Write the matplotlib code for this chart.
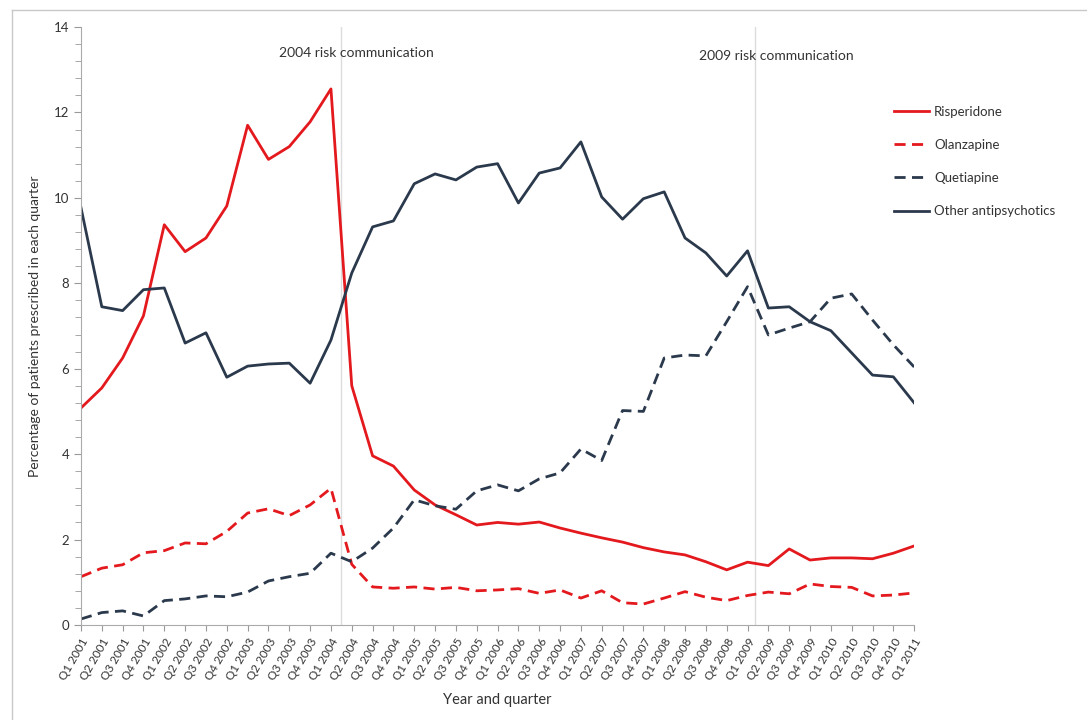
import matplotlib
matplotlib.use("Agg")
import matplotlib.pyplot as plt
import numpy as np
from matplotlib.ticker import MultipleLocator

plt.rcParams['font.family'] = ['Lato', 'DejaVu Sans']

# quarters Q1 2001 .. Q1 2011
quarters = [f"Q{q} {y}" for y in range(2001, 2012) for q in range(1, 5)][:41]

risperidone = [5.08, 5.55, 6.25, 7.24, 9.37, 8.74, 9.06, 9.81, 11.7, 10.9, 11.2, 11.78, 12.55,
               5.6, 3.96, 3.72, 3.16, 2.81, 2.58, 2.34, 2.40, 2.36, 2.41, 2.27, 2.15, 2.04,
               1.94, 1.81, 1.71, 1.64, 1.48, 1.29, 1.47, 1.39, 1.78, 1.52, 1.57, 1.57, 1.55,
               1.68, 1.85]
olanzapine = [1.13, 1.33, 1.41, 1.69, 1.74, 1.92, 1.90, 2.19, 2.62, 2.72, 2.56, 2.81, 3.20,
              1.42, 0.89, 0.86, 0.89, 0.84, 0.88, 0.80, 0.82, 0.85, 0.74, 0.82, 0.63, 0.80,
              0.52, 0.49, 0.63, 0.78, 0.65, 0.57, 0.69, 0.77, 0.73, 0.96, 0.90, 0.88, 0.68,
              0.70, 0.75]
quetiapine = [0.14, 0.29, 0.33, 0.21, 0.57, 0.61, 0.68, 0.66, 0.77, 1.03, 1.13, 1.21, 1.68,
              1.48, 1.80, 2.27, 2.93, 2.79, 2.71, 3.14, 3.28, 3.14, 3.42, 3.56, 4.12, 3.85,
              5.02, 5.00, 6.25, 6.32, 6.30, 7.10, 7.92, 6.79, 6.95, 7.10, 7.65, 7.75, 7.14,
              6.56, 6.04]
other = [9.77, 7.45, 7.36, 7.85, 7.89, 6.60, 6.84, 5.80, 6.06, 6.11, 6.13, 5.66, 6.67,
         8.24, 9.32, 9.46, 10.33, 10.56, 10.42, 10.72, 10.80, 9.88, 10.58, 10.70, 11.31, 10.02,
         9.50, 9.98, 10.14, 9.06, 8.71, 8.17, 8.76, 7.42, 7.45, 7.10, 6.89, 6.37, 5.85,
         5.81, 5.20]

events = [12.5, 32.35]
event_labels = ["2004 risk communication", "2009 risk communication"]

red = '#e3191e'
navy = '#2b394d'

fig = plt.figure(figsize=(10.87, 7.2), dpi=100)
ax = fig.add_axes([0.0745, 0.132, 0.7665, 0.8305])

x = np.arange(len(quarters))
ax.plot(x, risperidone, color=red, lw=2.0, label='Risperidone')
ax.plot(x, olanzapine, color=red, lw=2.0, dashes=(4, 2.3), label='Olanzapine')
ax.plot(x, quetiapine, color=navy, lw=2.0, dashes=(4, 2.3), label='Quetiapine')
ax.plot(x, other, color=navy, lw=2.0, label='Other antipsychotics')

for ev in events:
    ax.axvline(ev, color='#dcdcdc', lw=1, zorder=0)
ax.text(13.2, 13.38, event_labels[0], ha='center', va='center', fontsize=10, color='#333333')
ax.text(33.4, 13.33, event_labels[1], ha='center', va='center', fontsize=10, color='#333333')

ax.set_xlim(0, 40)
ax.set_ylim(0, 14)
ax.set_xticks(x)
ax.set_xticklabels(quarters, rotation=60, ha='right', rotation_mode='anchor', fontsize=8.5,
                   color='#333333')
ax.yaxis.set_major_locator(MultipleLocator(2))
ax.yaxis.set_minor_locator(MultipleLocator(0.4))
ax.tick_params(axis='y', labelsize=9.5, colors='#333333', length=5, color='#999999')
ax.tick_params(axis='y', which='minor', length=4, color='#999999')
ax.tick_params(axis='x', length=4, color='#999999', pad=4)

for s in ['top', 'right']:
    ax.spines[s].set_visible(False)
for s in ['left', 'bottom']:
    ax.spines[s].set_color('#aaaaaa')

ax.set_ylabel('Percentage of patients prescribed in each quarter', fontsize=10, color='#333333')
ax.set_xlabel('Year and quarter', fontsize=10.5, color='#333333', labelpad=8)
ax.yaxis.set_label_coords(-0.048, 0.5)

leg = ax.legend(loc='upper left', bbox_to_anchor=(0.962, 0.888), frameon=False, fontsize=9.5,
                handlelength=2.6, labelspacing=1.6, handletextpad=0.4)
for t in leg.get_texts():
    t.set_color('#333333')

# screenshot frame
fig.add_artist(plt.Line2D([0.011, 1.0], [0.986, 0.986], color='#c8c8c8', lw=1))
fig.add_artist(plt.Line2D([0.011, 0.011], [0.0, 0.986], color='#c8c8c8', lw=1))

fig.savefig('out.png', dpi=100)
